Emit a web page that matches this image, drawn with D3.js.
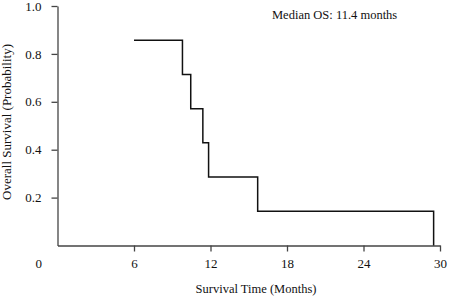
<!DOCTYPE html>
<html>
<head>
<meta charset="utf-8">
<script src="https://cdn.jsdelivr.net/npm/d3@7"></script>
<style>
  body { margin: 0; background: #fff; }
  svg text { font-family: "Liberation Serif", "Times New Roman", serif; fill: #111; }
  .axis path, .axis line { stroke: #444; stroke-width: 1.3px; }
  .axis text { font-size: 13px; }
</style>
</head>
<body>
<div id="chart"></div>
<script>
// de waarden
const times = [6, 9.8, 10.45, 11.4, 11.85, 15.7, 29.5]
const survival = [0.857, 0.714, 0.571, 0.429, 0.286, 0.143, 0]
const xTicks = [6, 12, 18, 24, 30]
const yTicks = [0.2, 0.4, 0.6, 0.8, 1.0]
const medianLabel = "Median OS: 11.4 months"

const width = 450
const height = 301
const margin = {top: 6, right: 10, bottom: 55.5, left: 57.5}

var svg = d3.select("#chart")
    .append("svg")
    .attr("width", width)
    .attr("height", height)

var xScale = d3.scaleLinear()
    .domain([0, 30])
    .range([margin.left, 440])

var yScale = d3.scaleLinear()
    .domain([0, 1])
    .range([height - margin.bottom, margin.top])

// x-as
svg.append("g")
    .attr("class", "axis")
    .attr("transform", "translate(0," + yScale(0) + ")")
    .call(d3.axisBottom(xScale).tickValues(xTicks).tickSize(6).tickSizeOuter(0).tickPadding(7))

// y-as
svg.append("g")
    .attr("class", "axis")
    .attr("transform", "translate(" + xScale(0) + ",0)")
    .call(d3.axisLeft(yScale).tickValues(yTicks).tickFormat(d3.format(".1f")).tickSize(6).tickSizeOuter(0).tickPadding(10))

// gedeelde oorsprong label
svg.append("text")
    .attr("x", xScale(0) - 15.5)
    .attr("y", yScale(0) + 13)
    .attr("dy", "0.71em")
    .attr("text-anchor", "end")
    .style("font-size", "13px")
    .text("0")

// de survival curve
var line = d3.line()
    .x(function(d, i) { return xScale(times[i]); })
    .y(function(d) { return yScale(d); })
    .curve(d3.curveStepAfter)

svg.append("path")
    .datum(survival)
    .attr("d", line)
    .attr("fill", "none")
    .attr("stroke", "#111")
    .attr("stroke-width", 1.5)

// titels
svg.append("text")
    .attr("x", 256)
    .attr("y", 293)
    .attr("text-anchor", "middle")
    .style("font-size", "12.5px")
    .text("Survival Time (Months)")

svg.append("text")
    .attr("transform", "translate(11,122) rotate(-90)")
    .attr("text-anchor", "middle")
    .style("font-size", "13px")
    .text("Overall Survival (Probability)")

svg.append("text")
    .attr("x", 272)
    .attr("y", 19)
    .style("font-size", "12.5px")
    .text(medianLabel)
</script>
</body>
</html>
